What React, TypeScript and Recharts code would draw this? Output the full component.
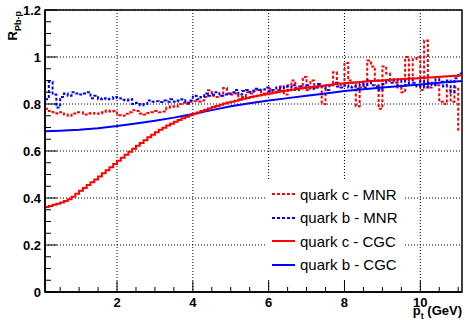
import { LineChart, Line, XAxis, YAxis, CartesianGrid, Legend, ReferenceArea } from "recharts";

const FONT = '"Liberation Sans", Arial, Helvetica, sans-serif';

// histogram binning (GeV)
const binStart = 0.1;
const binWidth = 0.1;
const xMin = 0.1;
const xMax = 11.1;

// quark c - MNR (dashed red histogram)
const cMnr = [
  0.78, 0.77, 0.765, 0.76, 0.765, 0.755, 0.75, 0.76, 0.765, 0.765,
  0.755, 0.76, 0.762, 0.758, 0.76, 0.765, 0.772, 0.768, 0.77, 0.752,
  0.75, 0.758, 0.765, 0.773, 0.77, 0.76, 0.755, 0.762, 0.765, 0.77,
  0.765, 0.768, 0.785, 0.79, 0.788, 0.8, 0.805, 0.8, 0.81, 0.812,
  0.81, 0.815, 0.83, 0.858, 0.835, 0.83, 0.835, 0.868, 0.845, 0.84,
  0.845, 0.82, 0.83, 0.85, 0.845, 0.855, 0.86, 0.845, 0.85, 0.865,
  0.85, 0.86, 0.875, 0.84, 0.88, 0.9, 0.87, 0.875, 0.915, 0.86,
  0.9, 0.87, 0.88, 0.8, 0.88, 0.88, 0.935, 0.89, 0.88, 0.975,
  0.9, 0.89, 0.79, 0.87, 0.88, 0.985, 0.96, 0.9, 0.78, 0.96,
  0.93, 0.9, 0.89, 0.87, 0.85, 1.0, 0.9, 0.99, 1.0, 0.86,
  1.07, 0.87, 0.89, 0.88, 0.81, 0.8, 0.86, 0.81, 0.87, 0.69,
];

// quark b - MNR (dashed blue histogram)
const bMnr = [
  0.82, 0.895, 0.84, 0.785, 0.83, 0.845, 0.835, 0.85, 0.845, 0.84,
  0.845, 0.85, 0.825, 0.835, 0.82, 0.825, 0.82, 0.822, 0.83, 0.825,
  0.818, 0.815, 0.82, 0.8, 0.805, 0.795, 0.8, 0.815, 0.81, 0.812,
  0.808, 0.815, 0.81, 0.82, 0.81, 0.815, 0.82, 0.805, 0.815, 0.835,
  0.82, 0.83, 0.845, 0.835, 0.84, 0.85, 0.835, 0.84, 0.845, 0.85,
  0.86, 0.84, 0.855, 0.86, 0.85, 0.865, 0.86, 0.862, 0.87, 0.855,
  0.86, 0.87, 0.855, 0.875, 0.86, 0.88, 0.86, 0.875, 0.87, 0.88,
  0.865, 0.87, 0.885, 0.875, 0.86, 0.88, 0.89, 0.875, 0.87, 0.88,
  0.87, 0.875, 0.865, 0.885, 0.87, 0.9, 0.88, 0.875, 0.86, 0.885,
  0.9, 0.89, 0.905, 0.875, 0.9, 0.88, 0.91, 0.89, 0.875, 0.9,
  0.87, 0.89, 0.88, 0.905, 0.895, 0.875, 0.9, 0.85, 0.91, 0.93,
];

// quark c - CGC (solid red histogram)
const cCgc = [
  0.362, 0.366, 0.371, 0.376, 0.381, 0.387, 0.395, 0.405, 0.418, 0.431,
  0.443, 0.455, 0.467, 0.479, 0.492, 0.505, 0.518, 0.531, 0.545, 0.558,
  0.571, 0.584, 0.597, 0.61, 0.622, 0.634, 0.646, 0.658, 0.669, 0.68,
  0.69, 0.699, 0.708, 0.716, 0.724, 0.732, 0.739, 0.746, 0.752, 0.758,
  0.764, 0.77, 0.776, 0.781, 0.787, 0.792, 0.797, 0.802, 0.806, 0.81,
  0.814, 0.818, 0.822, 0.826, 0.83, 0.833, 0.836, 0.839, 0.842, 0.845,
  0.848, 0.851, 0.854, 0.856, 0.859, 0.861, 0.864, 0.866, 0.868, 0.87,
  0.872, 0.874, 0.876, 0.878, 0.88, 0.882, 0.884, 0.886, 0.887, 0.889,
  0.89, 0.892, 0.893, 0.894, 0.896, 0.897, 0.898, 0.899, 0.9, 0.901,
  0.902, 0.903, 0.904, 0.905, 0.906, 0.907, 0.908, 0.909, 0.91, 0.911,
  0.912, 0.913, 0.914, 0.915, 0.916, 0.917, 0.918, 0.919, 0.92, 0.921,
];

// quark b - CGC (solid blue curve)
const bCgcX = [0.1, 0.5, 1, 1.5, 2, 2.5, 3, 3.5, 4, 4.5, 5, 5.5, 6, 6.5, 7, 7.5, 8, 8.5, 9, 9.5, 10, 10.5, 11.1];
const bCgcY = [
  0.684, 0.686, 0.69, 0.697, 0.706, 0.717, 0.729, 0.742, 0.757, 0.774, 0.79, 0.803,
  0.815, 0.825, 0.835, 0.845, 0.855, 0.863, 0.87, 0.877, 0.883, 0.89, 0.898,
];

const xMajorTicks = [2, 4, 6, 8, 10];
const xMinorTicks = [0.5, 1, 1.5, 2.5, 3, 3.5, 4.5, 5, 5.5, 6.5, 7, 7.5, 8.5, 9, 9.5, 10.5, 11];
const yMajorTicks = [0, 0.2, 0.4, 0.6, 0.8, 1, 1.2];
const yMinorTicks = [
  0.05, 0.1, 0.15, 0.25, 0.3, 0.35, 0.45, 0.5, 0.55, 0.65, 0.7, 0.75,
  0.85, 0.9, 0.95, 1.05, 1.1, 1.15,
];

const legendItems = [
  { name: "quark c - MNR", color: "#ff0000", dashed: true },
  { name: "quark b - MNR", color: "#0000ff", dashed: true },
  { name: "quark c - CGC", color: "#ff0000", dashed: false },
  { name: "quark b - CGC", color: "#0000ff", dashed: false },
];

function toHist(values: number[]) {
  const rows = values.map((y, i) => ({ x: +(binStart + i * binWidth).toFixed(2), y }));
  rows.push({ x: xMax, y: values[values.length - 1] });
  return rows;
}

const cMnrData = toHist(cMnr);
const bMnrData = toHist(bMnr);
const cCgcData = toHist(cCgc);
const bCgcData = bCgcX.map((x, i) => ({ x, y: bCgcY[i] }));

const xTicks = [...xMajorTicks, ...xMinorTicks].sort((a, b) => a - b);
const yTicks = [...yMajorTicks, ...yMinorTicks].sort((a, b) => a - b);

function XTick({ x, y, payload }: any) {
  const major = xMajorTicks.includes(payload.value);
  return (
    <g>
      <line x1={x} x2={x} y1={y} y2={y - (major ? 11 : 5)} stroke="#000" />
      {major && (
        <text x={x} y={y + 15} textAnchor="middle" fontSize={13} fontWeight="bold" fontFamily={FONT} fill="#000">
          {payload.value}
        </text>
      )}
    </g>
  );
}

function YTick({ x, y, payload }: any) {
  const major = yMajorTicks.includes(payload.value);
  return (
    <g>
      <line x1={x} x2={x + (major ? 12 : 6)} y1={y} y2={y} stroke="#000" />
      {major && (
        <text x={x - 4} y={y + 4.5} textAnchor="end" fontSize={13} fontWeight="bold" fontFamily={FONT} fill="#000">
          {payload.value}
        </text>
      )}
    </g>
  );
}

function YTitle() {
  const cx = 17;
  const cy = 11;
  return (
    <text transform={`rotate(-90 ${cx} ${cy})`} x={cx} y={cy} textAnchor="end" fontFamily={FONT} fontWeight="bold" fontSize={13} fill="#000">
      <tspan>R</tspan>
      <tspan fontSize={9} dy={4}>Pb-p</tspan>
    </text>
  );
}

function XTitle() {
  return (
    <text x={462} y={315} textAnchor="end" fontFamily={FONT} fontWeight="bold" fontSize={13} fill="#000">
      <tspan>p</tspan>
      <tspan fontSize={9} dy={4}>t</tspan>
      <tspan dy={-4}> (GeV)</tspan>
    </text>
  );
}

function LegendBox() {
  return (
    <div style={{ background: "#fff", width: 140, height: 100, position: "relative", fontFamily: FONT }}>
      {legendItems.map((it, i) => (
        <div
          key={it.name}
          style={{ position: "absolute", left: 0, top: 3 + i * 23.5, height: 22, display: "flex", alignItems: "center" }}
        >
          <svg width={35} height={22}>
            <line
              x1={7}
              x2={30}
              y1={11}
              y2={11}
              stroke={it.color}
              strokeWidth={2}
              strokeDasharray={it.dashed ? "3 2" : undefined}
            />
          </svg>
          <span style={{ fontSize: 15, color: "#000", whiteSpace: "nowrap" }}>{it.name}</span>
        </div>
      ))}
    </div>
  );
}

export default function App() {
  return (
    <div style={{ position: "absolute", left: 0, top: 0, background: "#fff" }}>
      <LineChart width={465} height={320} margin={{ top: 10, right: 3, bottom: 0, left: 0 }}>
        <CartesianGrid
          stroke="#000"
          strokeDasharray="1 2"
          horizontalValues={yMajorTicks}
          verticalValues={xMajorTicks}
        />
        <XAxis
          type="number"
          dataKey="x"
          domain={[xMin, xMax]}
          allowDataOverflow
          ticks={xTicks}
          interval={0}
          tickSize={0}
          tickMargin={0}
          tickLine={false}
          tick={<XTick />}
          height={28}
          axisLine={{ stroke: "#000", strokeWidth: 1.5 }}
          label={{ content: <XTitle /> }}
        />
        <YAxis
          type="number"
          domain={[0, 1.2]}
          allowDataOverflow
          ticks={yTicks}
          interval={0}
          tickSize={0}
          tickMargin={0}
          tickLine={false}
          tick={<YTick />}
          width={45}
          axisLine={{ stroke: "#000", strokeWidth: 1.5 }}
          label={{ content: <YTitle /> }}
        />
        <ReferenceArea x1={xMin} x2={xMax} y1={0} y2={1.2} fill="none" stroke="#000" strokeWidth={1.5} />
        <Line data={cMnrData} dataKey="y" name="quark c - MNR" type="stepAfter" stroke="#ff0000" strokeWidth={2} strokeDasharray="3 2" dot={false} activeDot={false} isAnimationActive={false} />
        <Line data={bMnrData} dataKey="y" name="quark b - MNR" type="stepAfter" stroke="#0000ff" strokeWidth={2} strokeDasharray="3 2" dot={false} activeDot={false} isAnimationActive={false} />
        <Line data={bCgcData} dataKey="y" name="quark b - CGC" type="linear" stroke="#0000ff" strokeWidth={2} dot={false} activeDot={false} isAnimationActive={false} />
        <Line data={cCgcData} dataKey="y" name="quark c - CGC" type="stepAfter" stroke="#ff0000" strokeWidth={2} dot={false} activeDot={false} isAnimationActive={false} />
        <Legend
          layout="vertical"
          align="center"
          verticalAlign="middle"
          content={<LegendBox />}
          wrapperStyle={{ left: 265, top: 180, width: 140, height: 100 }}
        />
      </LineChart>
    </div>
  );
}
